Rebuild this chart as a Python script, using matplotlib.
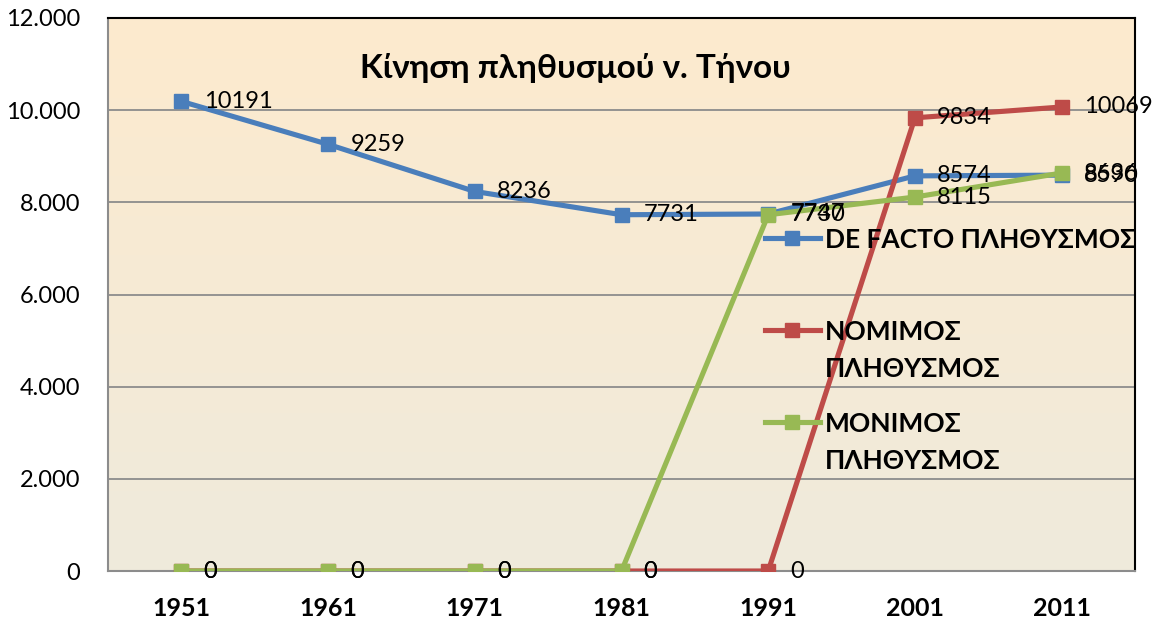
import matplotlib
matplotlib.use("Agg")
import matplotlib.pyplot as plt
import numpy as np
from matplotlib.colors import LinearSegmentedColormap
from matplotlib.ticker import FuncFormatter
from matplotlib.lines import Line2D

plt.rcParams['font.family'] = ['Lato', 'DejaVu Sans']

years = ['1951', '1961', '1971', '1981', '1991', '2001', '2011']
de_facto = [10191, 9259, 8236, 7731, 7747, 8574, 8590]
nomimos = [0, 0, 0, 0, 0, 9834, 10069]
monimos = [0, 0, 0, 0, 7730, 8115, 8636]
series_names = ['DE FACTO ΠΛΗΘΥΣΜΟΣ', 'ΝΟΜΙΜΟΣ\nΠΛΗΘΥΣΜΟΣ', 'ΜΟΝΙΜΟΣ\nΠΛΗΘΥΣΜΟΣ']
title = 'Κίνηση πληθυσμού ν. Τήνου'

colors = ['#4A7EBB', '#BE4B48', '#98B954']

fig = plt.figure(figsize=(11.55, 6.2), dpi=100)
ax = fig.add_axes([108/1155, 1-571/620, (1135-108)/1155, (571-18)/620])

x = np.arange(len(years))
ax.set_xlim(-0.5, len(years)-0.5)
ax.set_ylim(0, 12000)

# gradient background
cmap = LinearSegmentedColormap.from_list('bg', ['#EFEBDC', '#FDEACE'])
grad = np.linspace(0, 1, 256).reshape(-1, 1)
ax.imshow(grad, aspect='auto', cmap=cmap, origin='lower',
          extent=[-0.5, len(years)-0.5, 0, 12000], zorder=0)

ax.set_yticks(np.arange(0, 12001, 2000))
ax.yaxis.set_major_formatter(FuncFormatter(lambda v, p: f'{int(v):,}'.replace(',', '.')))
ax.grid(axis='y', color='#8C8C8C', linewidth=1.3, zorder=1)
ax.set_xticks(x)
ax.set_xticklabels(years, fontweight='bold', fontsize=18)
ax.tick_params(axis='y', labelsize=17, length=0, pad=20)
ax.tick_params(axis='x', length=0, pad=19)

for s in ['left', 'bottom']:
    ax.spines[s].set_color('#8C8C8C')
    ax.spines[s].set_linewidth(1.5)
for s in ['top', 'right']:
    ax.spines[s].set_color('#000000')
    ax.spines[s].set_linewidth(1.5)

data = [de_facto, nomimos, monimos]
for i in range(3):
    ax.plot(x, data[i], color=colors[i], linewidth=3.7, marker='s',
            markersize=9.5, zorder=3 + i, label=series_names[i])
    for xi, v in zip(x, data[i]):
        ax.annotate(str(v), (xi, v), xytext=(16, 0), textcoords='offset points',
                    ha='left', va='center', fontsize=17, zorder=6)

ax.text(0.455, 0.91, title, transform=ax.transAxes, ha='center', va='center',
        fontsize=24, fontweight='bold')

# legend drawn manually (handle aligned with first text line, like the reference)
def px2ax(px, py):
    return (px - 108) / 1027, (571 - py) / 553

leg_rows = [238, 330, 422]
for i, py in enumerate(leg_rows):
    x0, y0 = px2ax(765, py)
    x1, _ = px2ax(820, py)
    xm, _ = px2ax(792, py)
    ax.add_line(Line2D([x0, x1], [y0, y0], transform=ax.transAxes, color=colors[i],
                       linewidth=3.7, clip_on=False, zorder=7))
    ax.add_line(Line2D([xm], [y0], transform=ax.transAxes, color=colors[i], marker='s',
                       markersize=9.5, linestyle='none', clip_on=False, zorder=7))
    for k, line in enumerate(series_names[i].split('\n')):
        tx, ty = px2ax(825, py + 2 + 37 * k)
        ax.text(tx, ty, line, transform=ax.transAxes, ha='left', va='center',
                fontsize=19, fontweight='bold', zorder=7)

fig.savefig('out.png', dpi=100)
